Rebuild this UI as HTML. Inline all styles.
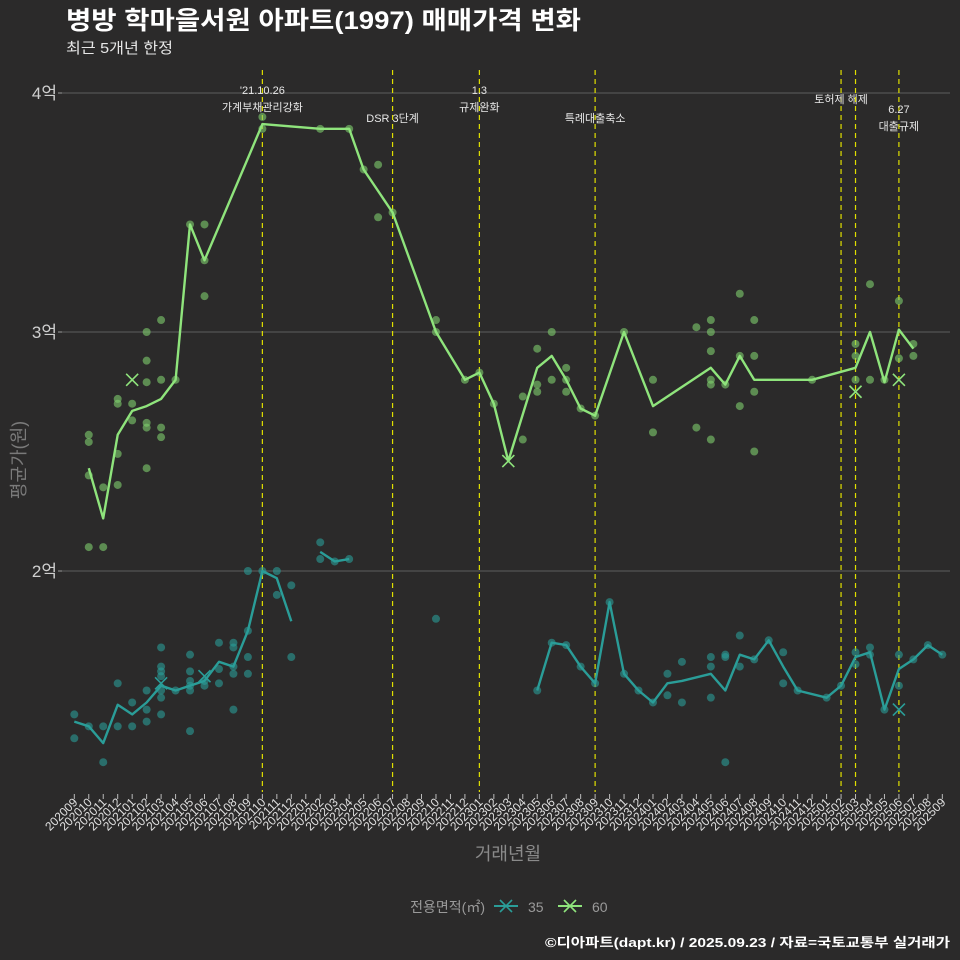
<!DOCTYPE html>
<html><head><meta charset="utf-8">
<style>
html,body{margin:0;padding:0;background:#2b2a2a;}
svg{display:block;font-family:"Liberation Sans","Noto Sans CJK KR",sans-serif;}
</style></head>
<body>
<svg id="chart" width="960" height="960" viewBox="0 0 960 960">
<rect x="0" y="0" width="960" height="960" fill="#2b2a2a"/>
<text x="66" y="29" fill="#ffffff" font-size="25" font-weight="bold" textLength="515" lengthAdjust="spacingAndGlyphs">병방 학마을서원 아파트(1997) 매매가격 변화</text>
<text x="66" y="53" fill="#e6e6e6" font-size="15" textLength="107" lengthAdjust="spacingAndGlyphs">최근 5개년 한정</text>
<text transform="translate(25,460) rotate(-90)" text-anchor="middle" fill="#7a7a7a" font-size="18">평균가(원)</text>
<text x="508" y="860" text-anchor="middle" fill="#8a8a8a" font-size="18">거래년월</text>
<g id="grid"></g><g id="vlines"></g><g id="marks"></g><g id="xaxis"></g>
<g>
<text x="485" y="912" text-anchor="end" fill="#9a9a9a" font-size="14">전용면적(㎡)</text>
<g>
<line x1="494" y1="906" x2="518" y2="906" stroke="#2a9d98" stroke-width="2"/>
<path d="M500 900 L512 912 M512 900 L500 912" stroke="#2a9d98" stroke-width="1.6"/>
<text x="528" y="912" fill="#9a9a9a" font-size="14">35</text></g>
<g>
<line x1="558" y1="906" x2="582" y2="906" stroke="#8fe47c" stroke-width="2"/>
<path d="M564 900 L576 912 M576 900 L564 912" stroke="#8fe47c" stroke-width="1.6"/>
<text x="592" y="912" fill="#9a9a9a" font-size="14">60</text></g>
</g>
<text x="950" y="947" text-anchor="end" fill="#ffffff" font-size="13" font-weight="bold" textLength="405" lengthAdjust="spacingAndGlyphs">©디아파트(dapt.kr) / 2025.09.23 / 자료=국토교통부 실거래가</text>
</svg>
<script>
const months = [];
for (let y = 2020, m = 9; months.length < 61; m++) { if (m > 12) { m = 1; y++; } months.push(String(y) + String(m).padStart(2, '0')); }
const yTicks = [2, 3, 4];
const yTickLabels = ['2억', '3억', '4억'];
const g60Idx = [1,2,3,4,5,6,7,8,9,13,17,19,20,22,25,27,28,29,30,32,33,34,35,36,38,40,44,45,46,47,51,54,55,56,57,58];
const g60Val = [2.43,2.22,2.57,2.67,2.69,2.72,2.80,3.45,3.30,3.87,3.85,3.85,3.68,3.50,3.00,2.80,2.83,2.70,2.46,2.85,2.90,2.80,2.68,2.65,3.00,2.69,2.85,2.78,2.90,2.80,2.80,2.85,3.00,2.79,3.01,2.93];
const t35Idx = [0,1,2,3,4,5,6,7,8,9,10,11,12,13,14,15,16,17,18,19,20,32,33,34,35,36,37,38,39,40,41,42,44,45,46,47,48,49,50,52,53,54,55,56,57,58,59,60];
const t35Val = [1.37,1.35,1.28,1.44,1.40,1.45,1.52,1.50,1.52,1.54,1.62,1.60,1.75,2.00,1.97,1.79,null,2.08,2.04,2.05,null,1.50,1.70,1.69,1.60,1.53,1.87,1.57,1.50,1.45,1.53,1.54,1.57,1.50,1.65,1.63,1.71,1.60,1.50,1.47,1.52,1.64,1.66,1.42,1.59,1.63,1.69,1.65];
const g60PtIdx = [1,1,1,1,2,2,3,3,3,3,5,5,5,5,5,5,6,6,6,6,7,8,9,9,9,13,13,17,19,20,21,21,22,25,25,27,28,29,31,31,32,32,32,33,33,34,34,34,35,36,38,40,40,43,43,44,44,44,44,44,44,45,46,46,46,47,47,47,47,51,54,54,54,55,55,56,57,57,58,58,4,4];
const g60PtVal = [2.57,2.54,2.40,2.10,2.35,2.10,2.72,2.70,2.49,2.36,3.00,2.88,2.79,2.62,2.60,2.43,3.05,2.80,2.60,2.56,2.80,3.45,3.45,3.30,3.15,3.90,3.85,3.85,3.85,3.68,3.70,3.48,3.50,3.05,3.00,2.80,2.83,2.70,2.73,2.55,2.93,2.78,2.75,3.00,2.80,2.85,2.80,2.75,2.68,2.65,3.00,2.80,2.58,3.02,2.60,3.05,3.00,2.92,2.80,2.78,2.55,2.78,3.16,2.90,2.69,3.05,2.90,2.75,2.50,2.80,2.95,2.90,2.80,3.20,2.80,2.80,3.13,2.89,2.95,2.90,2.70,2.63];
const t35PtIdx = [0,0,1,2,2,3,3,4,4,5,5,5,6,6,6,6,6,6,6,7,8,8,8,8,8,8,9,9,10,10,10,11,11,11,11,11,12,12,12,12,13,14,14,15,15,17,17,18,19,25,32,33,34,35,36,37,38,39,40,41,41,42,42,44,44,44,45,45,45,46,46,47,48,49,49,50,52,53,54,54,55,55,56,57,57,58,59,60];
const t35PtVal = [1.40,1.30,1.35,1.35,1.20,1.53,1.35,1.45,1.35,1.50,1.42,1.37,1.68,1.60,1.58,1.56,1.50,1.47,1.40,1.50,1.65,1.58,1.54,1.52,1.50,1.33,1.54,1.52,1.70,1.59,1.53,1.70,1.68,1.60,1.57,1.42,1.75,1.64,1.57,2.00,2.00,2.00,1.90,1.94,1.64,2.12,2.05,2.04,2.05,1.80,1.50,1.70,1.69,1.60,1.53,1.87,1.57,1.50,1.45,1.57,1.48,1.62,1.45,1.64,1.60,1.47,1.65,1.64,1.20,1.73,1.60,1.63,1.71,1.66,1.53,1.50,1.47,1.52,1.66,1.61,1.68,1.65,1.42,1.65,1.52,1.63,1.69,1.65];
const g60XIdx = [4,30,54,57];
const g60XVal = [2.80,2.46,2.75,2.80];
const t35XIdx = [6,9,57];
const t35XVal = [1.53,1.56,1.42];
const eventIdx = [13,22,28,36,53,54,57];
const eventLabels = [["'21.10.26","가계부채관리강화"],["","DSR 3단계"],["1.3","규제완화"],["","특례대출축소"],["토허제 해제",""],["",""],["6.27","대출규제"]];

const NS = 'http://www.w3.org/2000/svg';
const X0 = 74.3, DX = 14.467, PL = 62, PR = 950, PT = 70, PB = 792;
const xs = i => X0 + DX * i;
const ys = v => 332 - (v - 3) * 239;
function mk(tag, attrs, parent) { const e = document.createElementNS(NS, tag); for (const k in attrs) e.setAttribute(k, attrs[k]); parent.appendChild(e); return e; }

const grid = document.getElementById('grid');
yTicks.forEach((t, i) => {
  const l = mk('line', {x1: PL, x2: PR, y1: ys(t), y2: ys(t), stroke: '#5e5e5e', 'stroke-width': 1}, grid);
  
  
  const tk = mk('line', {x1: PL - 4, x2: PL, y1: ys(t), y2: ys(t), stroke: '#999'}, grid);
  
  
  const tx = mk('text', {x: PL - 5, y: ys(t) + 6, 'text-anchor': 'end', fill: '#cfcfcf', 'font-size': 17}, grid);
  tx.textContent = yTickLabels[i];
  
  
});

const vl = document.getElementById('vlines');
eventIdx.forEach((ei, k) => {
  const x = xs(ei);
  const l = mk('line', {x1: x, x2: x, y1: PT, y2: PB, stroke: '#e0e000', 'stroke-width': 1.2, 'stroke-dasharray': '5,4'}, vl);
  
  
  const lab = eventLabels[k];
  const yOff = (ei === 22 || ei === 36) ? 122 : (ei === 57 ? 113 : (ei === 53 ? 103 : 94));
  if (lab[0]) { const t = mk('text', {x: x, y: yOff, 'text-anchor': 'middle', fill: '#e8e8e8', 'font-size': 11}, vl); t.textContent = lab[0];   }
  if (lab[1]) { const t = mk('text', {x: x, y: (ei === 22 || ei === 36) ? 122 : yOff + 17, 'text-anchor': 'middle', fill: '#e8e8e8', 'font-size': 11}, vl); t.textContent = lab[1];   }
});

const marks = document.getElementById('marks');
function drawSeries(ptIdx, ptVal, lIdx, lVal, xIdx, xVal, color, ptColor, name) {
  ptIdx.forEach((i, k) => {
    const c = mk('circle', {cx: xs(i), cy: ys(ptVal[k]), r: 4, fill: ptColor, 'fill-opacity': 0.6}, marks);
    
    
  });
  let d = '', pen = false;
  lIdx.forEach((i, k) => {
    const v = lVal[k];
    if (v === null) { pen = false; return; }
    d += (pen ? 'L' : 'M') + xs(i).toFixed(1) + ' ' + ys(v).toFixed(1) + ' ';
    pen = true;
  });
  const p = mk('path', {d: d, fill: 'none', stroke: color, 'stroke-width': 2.4, 'stroke-linejoin': 'round'}, marks);
  
  
  xIdx.forEach((i, k) => {
    const cx = xs(i), cy = ys(xVal[k]);
    const m = mk('path', {d: `M${cx-6} ${cy-6} L${cx+6} ${cy+6} M${cx+6} ${cy-6} L${cx-6} ${cy+6}`, stroke: color, 'stroke-width': 1.6}, marks);
    
    
  });
}
drawSeries(t35PtIdx, t35PtVal, t35Idx, t35Val, t35XIdx, t35XVal, '#2a9d98', '#2a9d98', '35');
drawSeries(g60PtIdx, g60PtVal, g60Idx, g60Val, g60XIdx, g60XVal, '#8fe47c', '#7fcf6e', '60');

const xa = document.getElementById('xaxis');
months.forEach((m, i) => {
  const x = xs(i);
  const tk = mk('line', {x1: x, x2: x, y1: 794, y2: 799, stroke: '#bbbbbb'}, xa);
  
  
  const t = mk('text', {transform: `translate(${x + 4},${803}) rotate(-45)`, 'text-anchor': 'end', fill: '#e0e0e0', 'font-size': 12}, xa);
  t.textContent = m;
  
  
});
</script>
</body></html>
